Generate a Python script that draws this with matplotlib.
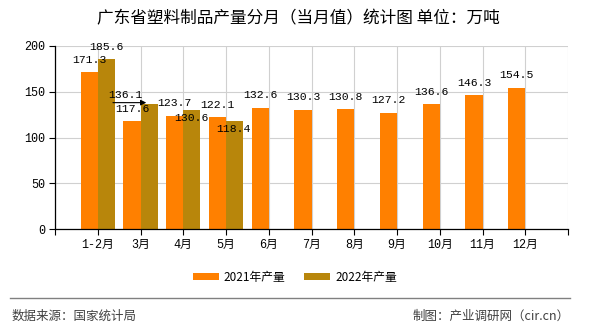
import numpy as np
import matplotlib.pyplot as plt

months = ['1-2月', '3月', '4月', '5月', '6月', '7月', '8月', '9月', '10月', '11月', '12月']
v2021 = [171.3, 117.6, 123.7, 122.1, 132.6, 130.3, 130.8, 127.2, 136.6, 146.3, 154.5]
v2022 = [185.6, 136.1, 130.6, 118.4]
yticks = [0, 50, 100, 150, 200]

mono = ['Liberation Mono', 'Noto Sans CJK SC']
cjk = ['Noto Sans CJK SC', 'DejaVu Sans']
c21 = '#ff8000'
c22 = '#b8860b'

fig = plt.figure(figsize=(5.9, 3.3), dpi=100)
ax = fig.add_axes([55 / 590, 1 - 229 / 330, 513 / 590, 183 / 330])

x = np.arange(len(months))
x22 = np.arange(len(v2022))
ax.bar(x - 0.2, v2021, width=0.4, color=c21, label='2021年产量', zorder=2)
ax.bar(x22 + 0.2, v2022, width=0.4, color=c22, label='2022年产量', zorder=2)

for i, v in enumerate(v2021):
    ax.annotate(f'{v}', (i - 0.2, v), xytext=(0, 9), textcoords='offset points',
                ha='center', va='center', fontsize=8.2, family=mono, zorder=4)

# 2022 labels, shifted by hand like in the original to dodge each other
offs = [(0, 9), (-17, 7), (0, -6), (-1, -6)]
for i, v in enumerate(v2022):
    ax.annotate(f'{v}', (i + 0.2, v), xytext=offs[i], textcoords='offset points',
                ha='center', va='center', fontsize=8.2, family=mono, zorder=4)
ax.annotate('', xy=(1 + 0.2, v2022[1] + 2), xytext=(-28, 0), textcoords='offset points',
            arrowprops=dict(arrowstyle='-|>', color='black', lw=0.8, mutation_scale=8), zorder=4)

ax.set_xlim(-1, len(months))
ax.set_ylim(0, 200)
ax.set_xticks(np.arange(-1, len(months) + 1))
ax.set_xticklabels([''] + months + [''], family=mono, fontsize=8.5)
ax.set_yticks(yticks)
ax.set_yticklabels([str(t) for t in yticks], family=mono, fontsize=8.5)
ax.tick_params(axis='both', length=4, width=0.8, color='black', pad=3)
ax.grid(True, color='#d0d0d0', lw=0.8, zorder=0)
ax.set_axisbelow(True)
for s in ['top', 'right']:
    ax.spines[s].set_visible(False)
for s in ['left', 'bottom']:
    ax.spines[s].set_color('black')
    ax.spines[s].set_linewidth(0.9)

fig.text(0.505, 1 - 19 / 330, '广东省塑料制品产量分月（当月值）统计图 单位：万吨',
         ha='center', va='center', fontsize=12, family=cjk)

fig.legend(loc='center', bbox_to_anchor=(0.5, 1 - 277 / 330), ncol=2, frameon=False,
           prop={'family': cjk, 'size': 8.5}, handlelength=2.2, handleheight=0.6,
           columnspacing=1.6, handletextpad=0.4)

fig.add_artist(plt.Line2D([10 / 590, 570 / 590], [1 - 298 / 330] * 2, color='#808080', lw=1))
fig.text(12 / 590, 1 - 316 / 330, '数据来源：国家统计局', ha='left', va='center',
         fontsize=9, family=cjk, color='#404040')
fig.text(570 / 590, 1 - 316 / 330, '制图：产业调研网（cir.cn）', ha='right', va='center',
         fontsize=9, family=cjk, color='#404040')

fig.savefig('out.png', dpi=100)
